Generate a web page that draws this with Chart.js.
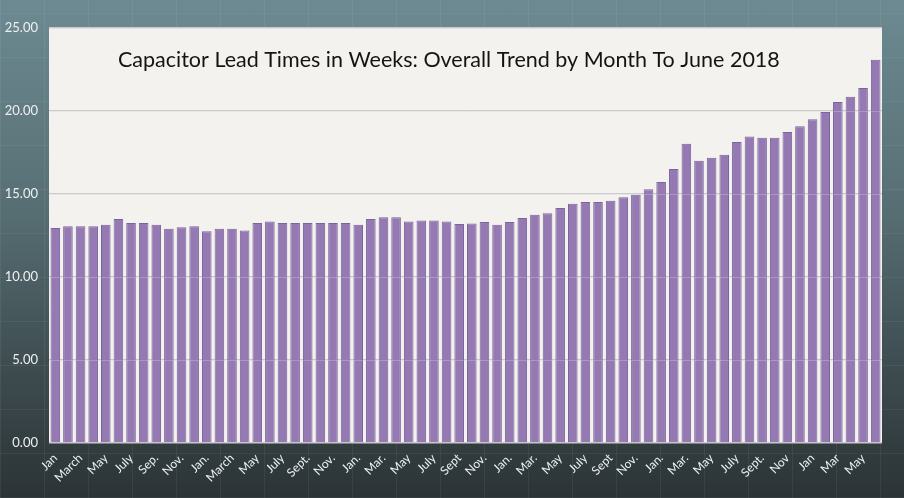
<!DOCTYPE html>
<html>
<head>
<meta charset="utf-8">
<script src="https://cdn.jsdelivr.net/npm/chart.js@4.4.1/dist/chart.umd.min.js"></script>
<style>
  html, body { margin: 0; padding: 0; }
  body {
    width: 904px;
    height: 498px;
    overflow: hidden;
    background:
      repeating-linear-gradient(90deg, rgba(255,255,255,0.06) 0 1px, transparent 1px 44px),
      repeating-linear-gradient(0deg, rgba(255,255,255,0.05) 0 1px, transparent 1px 44px),
      linear-gradient(180deg, #6d8a92 0%, #587075 40%, #3d4b4f 75%, #2b3336 100%);
  }
  #wrap { position: relative; width: 904px; height: 498px; }
</style>
</head>
<body>
<div id="wrap"><canvas id="myChart"></canvas></div>
<script>
const title = "Capacitor Lead Times in Weeks: Overall Trend by Month To June 2018";

// one bar per month, Jan 2013 .. June 2018
const years = [2013, 2014, 2015, 2016, 2017, 2018];
const monthNames = ["Jan", "Feb", "Mar", "Apr", "May", "Jun", "Jul", "Aug", "Sep", "Oct", "Nov", "Dec"];

// every other month is labelled, written as in the picture
const tickLabels = [
  "Jan", "March", "May", "July", "Sep.", "Nov.",
  "Jan.", "March", "May", "July", "Sept.", "Nov.",
  "Jan.", "Mar.", "May", "July", "Sept", "Nov.",
  "Jan.", "Mar.", "May", "July", "Sept", "Nov.",
  "Jan.", "Mar.", "May", "July", "Sept.", "Nov",
  "Jan", "Mar", "May",
];

const leadTimes = [
  12.95, 13.05, 13.05, 13.05, 13.15, 13.5, 13.25, 13.25, 13.15, 12.9, 13.0, 13.05,
  12.75, 12.9, 12.9, 12.8, 13.25, 13.35, 13.25, 13.25, 13.25, 13.25, 13.25, 13.25,
  13.15, 13.5, 13.6, 13.6, 13.35, 13.4, 13.4, 13.35, 13.2, 13.23, 13.31, 13.15,
  13.31, 13.55, 13.75, 13.84, 14.16, 14.42, 14.52, 14.52, 14.6, 14.8, 14.96, 15.28,
  15.72, 16.5, 18.03, 17.01, 17.19, 17.37, 18.13, 18.47, 18.39, 18.39, 18.73, 19.08,
  19.5, 19.94, 20.54, 20.86, 21.39, 23.09,
];

const yTicks = [0, 5, 10, 15, 20, 25];

const categories = [];
years.forEach((y) => monthNames.forEach((m) => categories.push(m + " " + y)));
categories.length = leadTimes.length;

const plotBackground = {
  id: "plotBackground",
  beforeDraw(chart) {
    const { ctx, chartArea: a } = chart;
    ctx.save();
    ctx.fillStyle = "#f3f2ee";
    ctx.fillRect(a.left, a.top, a.right - a.left, a.bottom - a.top);
    ctx.restore();
  },
  beforeDatasetsDraw(chart) {
    const { ctx, chartArea: a } = chart;
    ctx.save();
    ctx.fillStyle = "#141414";
    ctx.font = "21.5px Lato";
    ctx.textAlign = "left";
    ctx.textBaseline = "middle";
    ctx.fillText(title, a.left + 69, 60);
    ctx.restore();
  },
  // faint grid lines show through the bars in the original
  afterDatasetsDraw(chart) {
    const { ctx, chartArea: a, scales } = chart;
    ctx.save();
    ctx.strokeStyle = "rgba(255,255,255,0.22)";
    ctx.lineWidth = 1;
    yTicks.slice(1, -1).forEach((v) => {
      const y = Math.round(scales.y.getPixelForValue(v)) + 0.5;
      ctx.beginPath();
      ctx.moveTo(a.left, y);
      ctx.lineTo(a.right, y);
      ctx.stroke();
    });
    ctx.restore();
  },
};

const ctx = document.getElementById("myChart");
const myChart = new Chart(ctx, {
  type: "bar",
  data: {
    labels: categories,
    datasets: [
      {
        label: "Lead time (weeks)",
        data: leadTimes,
        backgroundColor: "#9479b3",
        borderColor: "#7c639d",
        borderWidth: 1,
        barPercentage: 0.76,
        categoryPercentage: 1,
      },
    ],
  },
  options: {
    responsive: true,
    maintainAspectRatio: false,
    animation: false,
    layout: { padding: { top: 28, right: 22, left: 0, bottom: 0 } },
    plugins: {
      legend: { display: false },
      tooltip: { enabled: false },
    },
    scales: {
      x: {
        grid: { display: false, drawTicks: false },
        border: { display: false },
        ticks: {
          autoSkip: false,
          maxRotation: 45,
          minRotation: 45,
          padding: 8,
          color: "#eef0f0",
          font: { family: "Lato", size: 12 },
          callback: (v, i) => (i % 2 === 0 ? tickLabels[i / 2] : ""),
        },
        afterFit: (s) => { s.height = 55; },
      },
      y: {
        min: 0,
        max: 25,
        afterBuildTicks: (s) => { s.ticks = yTicks.map((v) => ({ value: v })); },
        grid: { color: "#cbcbcb", lineWidth: 1.5, drawTicks: false },
        border: { display: false },
        ticks: {
          padding: 11,
          color: "#eef0f0",
          font: { family: "Lato", size: 13 },
          callback: (v) => Number(v).toFixed(2),
        },
        afterFit: (s) => { s.width = 49; },
      },
    },
  },
  plugins: [plotBackground],
});
</script>
</body>
</html>
